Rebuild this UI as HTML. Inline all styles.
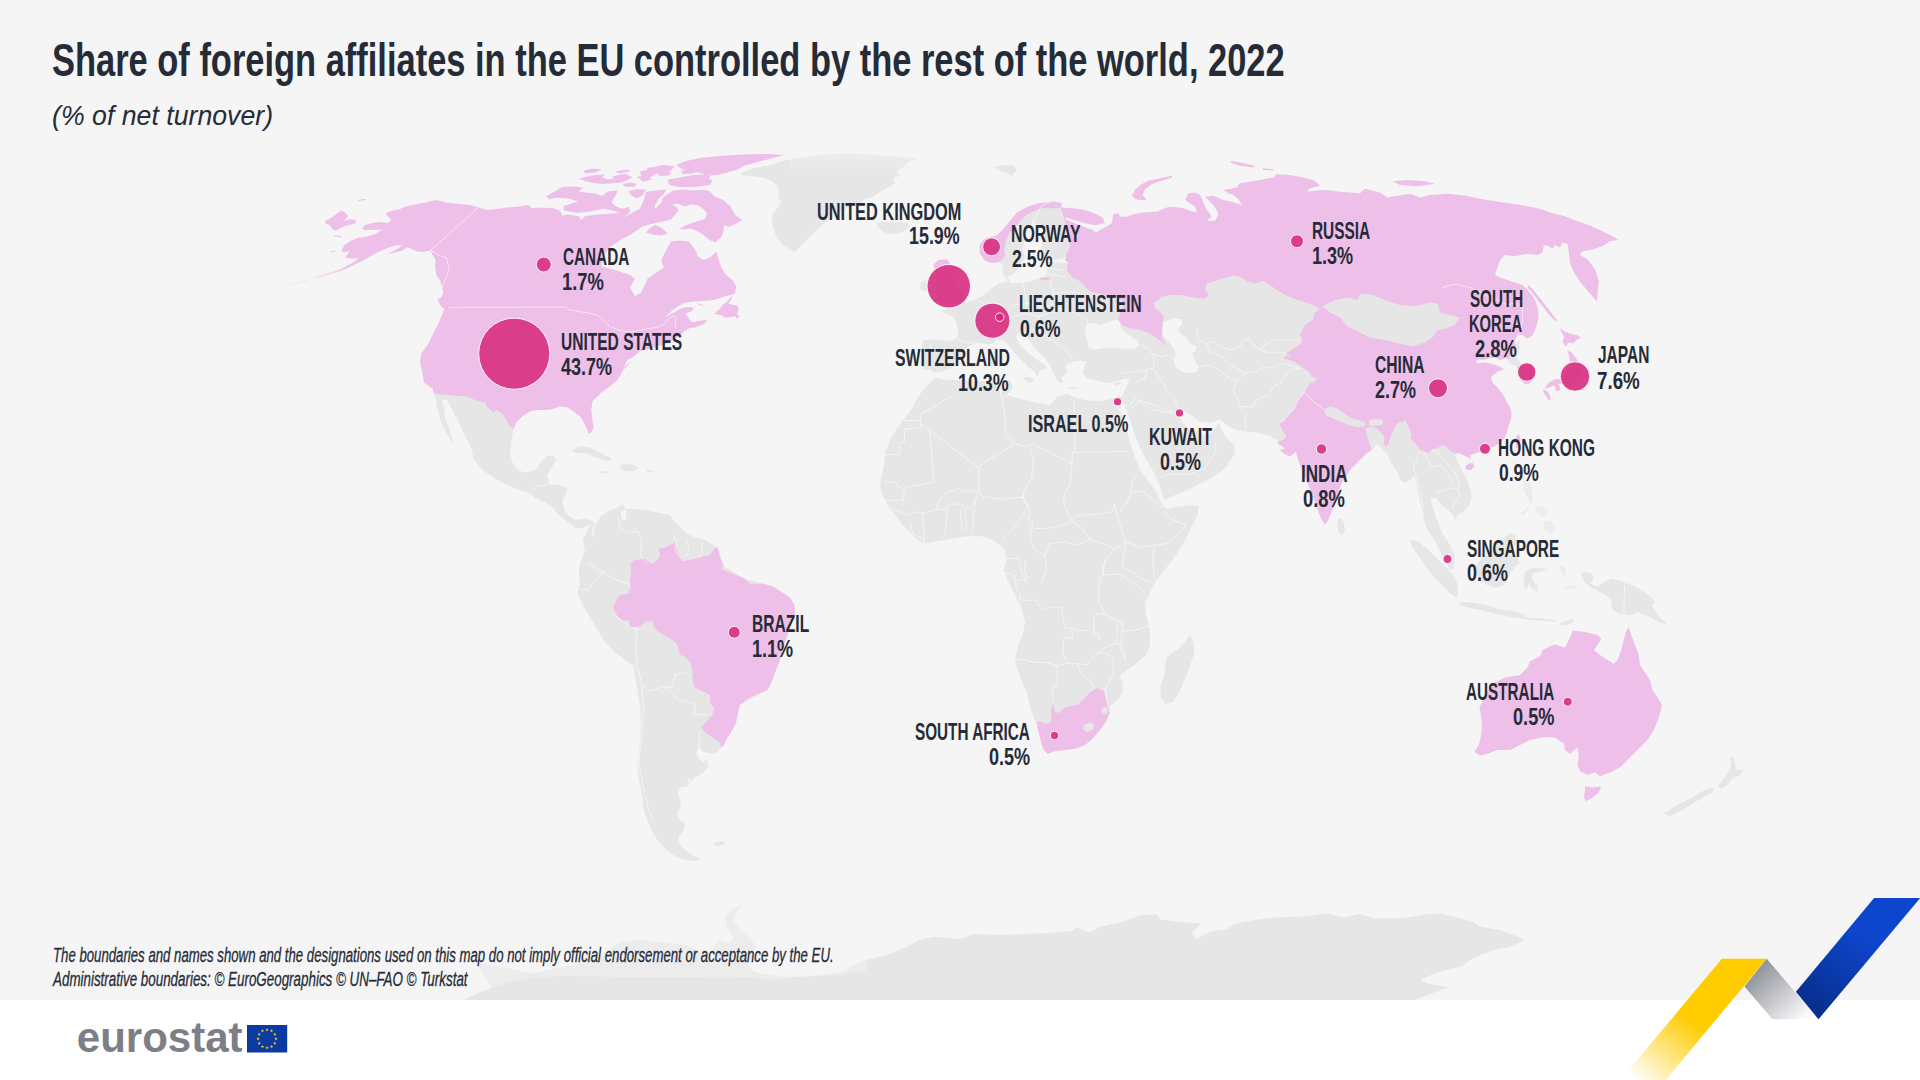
<!DOCTYPE html>
<html><head><meta charset="utf-8"><title>Share of foreign affiliates in the EU</title>
<style>
html,body{margin:0;padding:0}
body{width:1920px;height:1080px;position:relative;overflow:hidden;background:#f5f5f5;font-family:"Liberation Sans",sans-serif;color:#262b38}
#foot{position:absolute;left:0;top:1000px;width:1920px;height:80px;background:#fff}
svg{position:absolute;left:0;top:0}
.t{position:absolute;white-space:nowrap;transform-origin:0 0;color:#262b38}
#euro{position:absolute;left:76.8px;top:1017.4px;font:bold 42px "Liberation Sans",sans-serif;line-height:42px;color:#7d7f88;white-space:nowrap}
</style></head><body>
<svg id="map" width="1920" height="1000" viewBox="0 0 1920 1000">
<path fill="#e6e6e6" d="M1662.5,813.8L1675.0,806.2L1687.5,800.0L1697.5,793.8L1707.5,788.8L1715.0,787.5L1712.5,792.5L1702.5,797.5L1692.5,803.8L1680.0,811.2L1670.0,816.2ZM1717.5,786.2L1722.5,780.0L1727.5,773.8L1731.2,765.0L1730.0,757.5L1733.8,756.2L1735.0,763.8L1736.2,770.0L1743.8,770.0L1740.0,775.0L1732.5,778.8L1726.2,786.2L1721.2,788.8ZM741.7,172.5L753.3,168.3L770.0,165.0L786.7,160.0L806.7,156.7L826.7,154.2L846.7,153.3L870.0,154.2L895.0,156.7L920.0,158.3L908.3,161.7L903.3,166.7L896.7,171.7L900.0,175.8L893.3,178.3L895.0,183.3L886.7,188.3L880.0,191.7L875.0,195.8L870.0,197.5L865.0,199.2L860.0,202.5L850.0,206.7L840.0,211.7L833.3,216.7L826.7,221.7L820.0,226.7L813.3,233.3L806.7,240.0L800.0,246.7L795.0,251.7L791.7,250.8L785.0,246.7L778.3,240.0L775.0,233.3L773.3,226.7L771.7,220.0L773.3,213.3L778.3,206.7L781.7,201.7L778.3,196.7L779.2,190.0L776.7,185.0L770.0,180.0L761.7,177.5L750.0,175.8L741.7,175.0ZM876.7,223.3L883.3,221.7L891.7,222.5L900.0,221.7L908.3,223.3L910.0,226.7L905.0,230.8L896.7,233.3L888.3,234.2L881.7,230.8L878.3,226.7ZM993.3,166.7L1003.3,165.0L1013.3,165.8L1016.7,170.0L1011.7,175.8L1006.7,173.3L1000.0,170.8ZM920.8,281.7L926.7,279.2L930.8,282.5L930.0,288.3L925.0,291.7L920.0,289.2ZM1337.5,519.2L1340.8,518.3L1344.2,524.2L1345.0,530.0L1342.5,535.0L1339.2,533.3L1337.5,526.7ZM1520.0,338.3L1516.7,343.3L1513.3,345.0L1510.0,350.0L1507.5,355.0L1508.3,361.7L1511.7,365.0L1516.7,365.8L1520.0,363.3L1519.2,360.0L1516.7,358.3L1517.5,353.3L1520.0,348.3L1519.2,343.3ZM992.5,257.5L1000.0,247.5L1002.5,240.0L1007.5,232.5L1012.5,225.0L1017.5,217.5L1025.0,210.0L1035.0,205.0L1050.0,201.2L1061.2,202.5L1063.8,212.5L1066.2,222.5L1068.8,232.5L1071.2,242.5L1068.8,252.5L1063.8,258.0L1052.5,260.0L1042.5,258.8L1040.0,252.5L1042.5,242.5L1045.0,232.5L1040.0,225.0L1032.5,222.5L1027.5,230.0L1025.0,240.0L1022.5,250.0L1025.0,257.5L1020.0,265.0L1015.0,272.5L1010.0,276.2L1005.0,272.5L1002.5,265.0L997.5,261.2ZM1068.3,263.3L1056.7,262.5L1048.3,261.7L1046.7,268.3L1046.7,273.3L1044.2,277.5L1040.0,278.3L1030.0,281.7L1023.3,282.5L1013.3,283.3L1008.3,281.7L1003.3,275.0L1002.5,268.3L1005.8,265.0L1008.3,270.0L1007.5,276.7L1010.0,280.8L1000.0,283.3L995.0,285.8L990.0,290.0L983.3,295.0L978.3,298.3L973.3,300.0L966.7,302.5L960.0,303.3L955.0,305.8L950.0,305.3L946.7,308.3L941.7,310.8L946.7,314.2L953.3,316.7L956.7,323.3L958.3,331.7L956.7,338.3L950.0,340.8L940.0,340.0L930.0,339.2L923.3,340.8L921.7,346.7L922.5,355.0L920.8,363.3L923.3,369.2L930.0,370.0L935.0,372.5L941.7,371.7L948.3,369.2L955.0,365.0L960.0,358.3L963.3,353.3L966.7,348.3L971.7,345.0L976.7,342.5L981.7,343.3L988.3,344.2L993.3,343.3L996.7,340.8L1001.7,340.0L1006.7,343.3L1011.7,350.0L1018.3,356.7L1025.0,363.3L1030.0,368.3L1035.0,371.7L1036.7,376.7L1034.2,379.2L1038.3,375.0L1040.0,370.0L1045.0,369.2L1046.7,366.7L1040.0,361.7L1033.3,356.7L1026.7,351.7L1021.7,346.7L1018.3,341.7L1015.8,336.7L1018.3,333.3L1023.3,333.3L1026.7,336.7L1030.0,341.7L1035.0,348.3L1040.0,353.3L1045.0,358.3L1048.3,363.3L1051.7,368.3L1053.3,373.3L1056.7,380.0L1060.0,383.3L1063.3,381.7L1061.7,376.7L1065.0,375.0L1067.5,371.7L1065.0,366.7L1068.3,363.3L1073.3,361.7L1080.0,360.8L1086.7,361.7L1084.2,366.7L1082.5,373.3L1086.7,378.3L1093.3,380.0L1101.7,381.7L1110.0,383.3L1116.7,380.8L1123.3,379.2L1130.0,378.3L1128.3,383.3L1125.0,390.0L1121.7,396.7L1118.3,401.7L1118.8,393.8L1122.5,401.2L1127.5,412.5L1132.5,427.5L1137.5,442.5L1145.0,457.5L1152.5,470.0L1158.8,482.5L1162.5,495.0L1165.0,500.0L1175.0,495.0L1187.5,490.0L1200.0,483.8L1210.0,478.8L1220.0,472.5L1227.5,465.0L1235.0,452.5L1233.8,445.0L1227.5,438.8L1221.2,430.0L1218.8,423.0L1216.2,427.0L1211.2,432.5L1205.0,435.5L1197.5,432.5L1190.0,430.0L1183.8,423.8L1178.8,416.2L1180.0,410.0L1185.0,411.2L1192.5,416.2L1200.0,422.0L1210.0,423.0L1220.0,419.5L1225.0,423.8L1232.5,428.8L1242.5,431.2L1255.0,432.5L1267.5,435.0L1277.5,440.0L1282.5,445.0L1280.0,443.3L1371.7,450.0L1376.7,444.2L1381.7,448.3L1386.7,453.3L1390.0,460.0L1393.3,466.7L1398.3,473.3L1400.0,480.0L1405.0,483.3L1410.0,480.0L1414.2,475.8L1416.7,483.3L1418.3,493.3L1420.8,503.3L1423.3,513.3L1425.0,523.3L1426.7,533.3L1423.3,506.7L1424.2,513.3L1423.0,517.5L1427.0,528.7L1434.3,540.0L1440.0,551.0L1445.7,562.5L1451.0,570.0L1454.0,568.0L1455.0,555.0L1449.3,543.7L1441.8,532.5L1436.2,517.5L1432.5,506.7L1430.7,498.7L1431.7,497.5L1435.8,498.3L1440.0,503.3L1443.3,506.7L1448.3,510.0L1453.3,515.0L1455.0,520.0L1458.3,515.0L1463.3,511.7L1468.3,506.7L1471.7,498.3L1470.8,490.0L1466.7,480.0L1461.7,470.0L1457.5,461.7L1455.0,455.0L1458.3,451.7L1470.0,400.0L1480.0,330.0L1480.0,250.0L1100.0,240.0L1075.0,262.0ZM1113.3,383.3L1120.0,381.7L1121.7,383.3L1116.7,385.8ZM1068.3,386.7L1078.3,387.0L1079.2,388.7L1069.2,388.7ZM1023.3,376.7L1031.7,377.5L1035.0,380.0L1030.0,383.3L1025.0,380.8ZM990.8,356.7L995.0,355.8L995.8,365.0L991.7,366.7ZM993.3,347.5L995.8,346.7L996.7,354.2L994.2,354.7ZM935.0,377.5L947.5,380.0L965.0,380.5L985.0,381.2L1000.0,382.5L1010.0,380.0L1013.0,387.5L1007.5,395.0L1020.0,398.8L1035.0,402.5L1050.0,405.0L1057.5,396.2L1067.5,393.8L1075.0,397.5L1085.0,400.0L1100.0,401.2L1112.5,398.8L1118.8,396.2L1122.5,400.0L1120.0,410.0L1125.0,425.0L1130.0,442.5L1135.0,457.5L1140.0,470.0L1147.5,480.0L1155.0,490.0L1160.0,500.0L1162.5,506.2L1167.5,508.8L1180.0,506.2L1192.5,505.0L1198.8,506.2L1197.5,515.0L1190.0,530.0L1182.5,545.0L1172.5,560.0L1162.5,572.5L1155.0,582.5L1150.0,592.5L1145.0,602.5L1145.0,605.0L1146.2,615.0L1148.8,625.0L1150.0,635.0L1150.0,645.0L1146.2,655.0L1137.5,662.5L1127.5,670.0L1120.0,675.0L1122.5,682.5L1122.5,692.5L1117.5,700.0L1110.0,706.2L1110.0,712.5L1106.2,721.2L1100.0,730.0L1092.5,738.8L1085.0,745.0L1075.0,748.8L1065.0,750.0L1055.0,751.2L1047.5,753.8L1043.8,750.0L1041.2,742.5L1038.8,732.5L1036.2,722.5L1033.8,717.5L1030.0,707.5L1027.5,695.0L1022.5,682.5L1017.5,670.0L1015.0,660.0L1017.5,647.5L1022.5,635.0L1025.0,622.5L1022.5,610.0L1020.0,600.0L1023.8,620.0L1022.5,610.0L1017.5,600.0L1012.5,590.0L1007.5,580.0L1003.8,570.0L1006.2,560.0L1005.0,550.0L1000.0,545.0L992.5,540.0L982.5,536.2L967.5,536.2L952.5,538.8L937.5,541.2L925.0,543.8L917.5,540.0L910.0,532.5L902.5,525.0L895.0,515.0L887.5,505.0L882.5,495.0L880.0,487.5L881.2,477.5L883.8,465.0L885.0,452.5L890.0,440.0L897.5,427.5L905.0,417.5L912.5,407.5L917.5,397.5L925.0,387.5ZM1190.0,635.0L1193.8,642.5L1194.5,652.5L1191.2,662.5L1187.5,672.5L1182.5,685.0L1177.5,695.0L1172.5,702.5L1165.0,703.8L1161.2,697.5L1160.0,687.5L1163.8,677.5L1165.0,667.5L1166.2,657.5L1172.5,652.5L1180.0,647.5L1186.2,640.0ZM595.0,525.0L600.0,517.5L607.5,511.2L617.5,507.5L622.5,503.8L625.0,508.8L632.5,508.8L645.0,510.0L657.5,512.5L670.0,515.0L675.0,522.5L680.0,526.2L685.0,532.5L695.0,537.5L705.0,540.0L715.0,546.2L720.0,552.5L717.5,547.0L723.8,566.2L745.0,578.8L772.5,586.2L794.5,605.0L791.2,625.0L780.0,660.0L767.5,690.0L740.0,705.0L732.5,730.0L721.2,747.5L717.5,752.5L710.0,753.8L702.5,751.2L698.8,747.5L696.2,752.5L700.0,760.0L705.0,765.0L702.5,772.5L695.0,777.5L690.0,782.5L685.0,787.5L706.2,758.8L708.8,766.2L703.8,772.5L695.0,777.5L687.5,780.0L688.0,786.2L680.0,787.5L677.5,793.8L681.2,801.2L680.0,808.8L676.2,813.8L680.0,820.0L685.5,823.8L683.8,830.0L678.8,836.2L678.8,842.5L682.5,847.5L690.0,853.8L700.0,858.8L695.0,861.2L685.0,860.0L675.0,856.2L665.0,848.8L657.5,840.0L651.2,830.0L647.5,820.0L643.8,810.0L642.5,797.5L640.0,785.0L637.5,770.0L638.8,755.0L640.0,740.0L640.0,735.0L641.2,720.0L640.0,705.0L637.5,690.0L635.0,675.0L632.5,665.0L625.0,660.0L615.0,652.5L605.0,642.5L597.5,630.0L590.0,617.5L582.5,605.0L577.5,592.5L580.0,582.5L578.8,570.0L581.2,560.0L585.0,550.0L582.5,540.0L587.5,530.0L592.5,520.0L592.5,555.0L590.0,545.0L593.8,535.0ZM713.8,842.5L723.8,841.2L725.0,844.5L715.0,846.2ZM433.8,392.5L450.0,392.5L475.0,397.5L487.5,405.0L502.5,411.2L513.8,426.2L511.2,442.5L510.0,452.5L512.5,462.5L517.5,470.0L525.0,472.5L536.2,470.0L541.2,461.2L546.2,456.2L553.8,455.0L556.2,460.0L550.0,470.0L547.5,475.0L550.0,484.5L557.5,485.0L565.0,486.2L567.5,490.0L562.5,500.0L563.8,508.8L567.5,515.0L575.0,520.0L585.0,518.8L590.0,520.0L595.0,523.8L593.8,526.2L590.0,523.8L582.5,528.8L575.0,527.5L572.5,525.0L565.0,520.0L557.5,513.8L552.5,507.5L545.0,502.5L535.0,497.5L530.0,493.8L520.0,490.0L507.5,485.0L495.0,478.8L482.5,470.0L473.8,460.0L471.2,447.5L465.0,435.0L458.8,422.5L452.5,410.0L447.5,400.0L442.0,400.0L443.8,407.5L445.0,417.5L448.8,427.5L451.2,436.2L453.8,444.5L451.2,441.2L446.2,432.5L441.2,422.5L437.5,410.0L436.2,400.0ZM571.2,450.0L580.0,446.2L590.0,447.5L600.0,452.5L610.0,457.5L612.5,461.2L602.5,460.0L592.5,456.2L585.0,453.0L575.0,453.0ZM620.0,465.0L630.0,463.8L638.8,467.5L635.0,471.2L626.2,471.2L621.2,468.8ZM600.0,471.0L607.5,471.5L607.0,473.5L600.5,473.0ZM647.0,469.8L653.0,470.0L653.0,472.0L647.0,472.0ZM1410.0,540.0L1418.3,541.7L1426.7,548.3L1435.0,556.7L1443.3,565.0L1451.7,573.3L1456.7,581.7L1458.3,590.0L1457.5,597.5L1451.7,595.0L1445.0,588.3L1436.7,580.0L1428.3,570.0L1420.0,558.3L1413.3,548.3ZM1458.8,602.8L1470.0,601.9L1485.0,604.7L1500.0,609.4L1515.0,611.3L1524.4,615.0L1522.5,618.8L1511.3,616.9L1496.3,614.1L1481.3,610.3L1466.3,607.5L1459.7,605.3ZM1475.0,566.7L1480.0,560.0L1486.7,555.0L1493.3,546.7L1501.7,540.0L1510.0,533.3L1515.0,535.0L1516.7,541.7L1513.3,548.3L1516.7,556.7L1520.0,563.3L1515.0,566.7L1510.0,573.3L1506.7,581.7L1501.7,586.7L1493.3,587.5L1486.7,585.0L1480.0,580.0L1475.8,573.3ZM1525.0,571.7L1531.7,568.3L1540.0,567.5L1546.7,569.2L1541.7,571.7L1533.3,573.3L1531.7,578.3L1536.7,585.0L1538.3,591.7L1533.3,590.0L1528.3,583.3L1526.7,590.0L1523.3,585.0L1524.2,578.3ZM1580.6,573.8L1586.3,571.5L1591.9,573.8L1593.8,579.4L1590.0,583.1L1597.5,586.9L1605.0,581.3L1612.5,578.4L1621.9,581.3L1631.3,585.0L1642.5,590.6L1650.0,596.3L1655.6,601.9L1651.9,605.6L1655.6,611.3L1661.3,618.8L1666.9,624.4L1659.4,622.5L1651.9,617.8L1644.4,615.0L1636.9,611.3L1633.1,615.0L1623.8,615.0L1614.4,611.3L1610.6,605.6L1612.5,600.0L1605.0,594.4L1597.5,590.6L1590.0,586.9L1584.4,581.3ZM865.0,961.7L866.7,960.0L886.7,955.0L906.7,946.7L920.0,940.0L933.3,936.7L953.3,938.3L960.0,939.3L973.3,934.0L1000.0,935.0L1043.3,933.3L1073.3,930.7L1076.7,927.3L1090.0,932.7L1100.0,926.7L1123.3,921.7L1140.0,915.0L1156.7,914.3L1160.0,919.3L1176.7,921.7L1201.7,923.3L1191.7,933.3L1196.7,939.3L1210.0,931.7L1226.7,929.3L1236.7,923.3L1260.0,919.3L1280.0,917.3L1310.0,916.0L1326.7,913.3L1343.3,917.3L1360.0,914.0L1373.3,918.3L1403.3,918.3L1426.7,914.3L1440.0,913.3L1460.0,918.3L1473.3,921.7L1480.0,926.7L1500.0,930.0L1513.3,935.0L1525.0,940.0L1510.0,946.7L1493.3,950.0L1473.3,958.3L1460.0,966.7L1440.0,971.7L1426.7,976.7L1420.0,980.0L1426.7,983.3L1448.3,987.3L1410.0,1001.7L865.0,1001.7ZM1520.0,616.7L1526.7,617.0L1533.3,618.3L1540.0,618.0L1546.7,619.2L1555.0,620.0L1555.0,621.7L1543.3,620.8L1531.7,620.0L1520.8,618.7ZM1560.0,623.3L1566.7,620.8L1573.3,619.2L1575.0,620.8L1568.3,624.2L1561.7,625.8Z"/>
<path fill="#ececec" d="M476.7,963.3L496.7,966.0L533.3,973.3L546.7,970.0L573.3,965.0L600.0,956.7L620.0,941.7L640.0,940.0L666.7,943.3L686.7,945.0L700.0,951.7L710.0,961.7L716.7,958.3L713.3,946.7L720.0,940.0L730.0,943.3L733.3,936.7L726.7,926.7L725.0,916.7L733.3,908.3L743.3,903.3L736.7,911.7L733.3,920.0L740.0,930.0L750.0,938.3L756.7,946.7L753.3,955.0L746.7,963.3L753.3,971.7L766.7,975.0L793.3,976.7L820.0,975.0L843.3,971.7L853.3,965.0L866.7,960.0L866.7,1001.7L500.0,1001.7ZM1523.3,480.0L1528.3,481.7L1531.7,488.3L1533.3,496.7L1531.7,503.3L1528.3,500.0L1525.0,493.3L1523.3,486.7ZM1545.0,520.0L1551.7,521.7L1555.0,528.3L1551.7,533.3L1546.7,531.7L1543.3,526.7ZM1535.0,506.7L1541.7,505.8L1546.7,511.7L1545.0,518.3L1540.0,515.0L1535.8,511.7ZM1520.0,513.3L1525.0,510.0L1528.3,506.7L1527.5,510.8L1522.5,515.8ZM1560.0,566.7L1564.2,565.0L1565.8,571.7L1564.2,578.3L1561.7,573.3ZM1563.3,586.7L1573.3,585.8L1576.7,588.3L1566.7,589.2Z"/>
<path fill="#e6e6e6" d="M462.0,1001.0L480.0,992.0L500.0,985.0L525.0,979.0L560.0,976.0L620.0,977.0L695.0,977.0L720.0,978.0L750.0,977.0L770.0,980.0L800.0,977.0L840.0,975.0L868.0,970.0L868.0,1001.0Z"/>
<path fill="#f5f5f5" d="M1085.0,331.7L1085.8,325.0L1093.3,322.5L1100.0,325.8L1105.0,323.3L1113.3,320.0L1123.3,320.8L1120.0,325.8L1123.3,330.8L1130.0,335.8L1136.7,340.0L1139.7,345.0L1135.8,348.3L1125.0,348.7L1113.3,347.5L1103.3,348.3L1095.0,349.7L1088.3,348.3L1087.5,341.7ZM1166.7,320.8L1173.3,318.3L1181.7,319.2L1182.5,324.2L1178.3,328.3L1180.0,333.3L1186.7,338.3L1190.0,343.3L1196.7,346.7L1195.0,351.7L1191.7,353.3L1195.0,360.0L1198.3,366.7L1196.7,371.7L1190.0,373.3L1181.7,371.7L1175.8,366.7L1173.3,360.0L1175.8,353.3L1173.3,346.7L1166.7,340.0L1161.7,333.3L1159.2,327.5L1161.7,323.3ZM622.1,510.6L625.8,509.7L626.8,515.3L624.9,520.6L621.5,519.1L620.8,514.4Z"/>
<path fill="#eebfe9" d="M478.3,207.5L486.7,210.0L495.0,209.2L506.7,207.5L516.7,206.7L528.3,205.0L531.7,208.3L541.7,207.5L553.3,208.3L560.0,210.8L562.5,215.8L567.5,214.4L578.8,216.2L581.2,220.0L585.0,216.2L597.5,214.4L610.0,213.8L620.0,213.1L625.0,216.9L630.0,213.8L636.2,210.6L640.0,208.8L646.2,206.9L650.0,210.0L655.0,209.4L658.8,205.0L662.5,201.2L668.8,202.5L676.2,206.9L678.8,210.0L675.0,215.0L671.2,219.4L663.8,221.2L657.5,222.5L653.8,223.5L642.5,226.5L630.0,235.0L620.0,240.2L610.0,246.9L603.8,255.0L601.2,266.2L615.0,270.0L630.0,275.0L635.0,278.8L630.0,287.5L635.0,296.2L641.2,292.5L647.5,278.8L663.8,267.5L661.2,260.0L666.2,250.0L671.2,241.2L680.0,240.6L688.8,241.5L692.5,246.2L696.2,251.2L697.5,256.2L703.8,260.0L710.0,257.5L716.2,251.9L718.8,260.0L721.2,267.5L726.2,275.0L732.5,280.0L736.2,286.2L735.0,293.4L729.4,295.3L721.9,297.2L714.4,300.0L703.1,300.9L693.7,301.4L684.4,302.8L677.8,306.6L671.2,311.2L667.5,315.0L664.7,317.8L671.2,314.1L677.8,310.3L684.4,307.5L690.0,307.0L693.7,308.4L691.9,311.2L688.1,312.2L685.3,314.1L688.1,316.9L690.0,320.6L693.7,322.5L697.5,321.1L702.2,320.6L706.9,319.2L705.9,322.5L701.2,325.3L695.6,327.2L690.0,328.1L684.4,330.9L681.6,333.7L676.9,337.5L665.6,344.1L652.5,347.8L639.4,351.6L632.8,357.2L627.2,360.0L625.3,364.7L622.5,371.0L632.5,360.0L625.0,366.2L621.2,373.8L617.5,380.0L610.0,386.2L600.0,393.8L592.5,401.2L591.2,410.0L592.5,420.0L593.8,427.5L591.2,432.5L588.8,433.8L585.0,425.0L581.2,417.5L575.0,412.5L567.5,407.5L560.0,406.2L553.8,408.8L547.5,410.0L537.5,410.0L530.0,411.2L522.5,416.2L516.2,422.5L513.8,428.8L510.0,426.2L506.2,420.0L502.5,413.8L496.2,410.0L493.8,412.5L487.5,407.5L485.0,402.5L475.0,400.0L466.2,396.2L460.0,396.2L450.0,395.0L433.8,393.8L432.5,388.8L423.8,382.5L422.5,372.5L420.0,362.5L421.2,353.8L427.5,345.0L433.8,332.5L440.0,320.0L443.8,310.0L448.8,305.0L448.8,315.0L445.0,310.0L440.0,305.0L437.5,299.4L441.2,297.5L443.1,292.5L441.9,286.2L440.0,280.0L436.9,276.2L435.0,267.5L435.6,260.0L432.5,255.0L430.6,250.6L422.5,251.9L416.2,251.2L410.0,248.1L406.2,247.5L403.1,250.6L396.2,251.9L387.5,254.4L392.5,251.2L398.8,248.1L402.5,245.2L396.2,245.6L388.8,247.5L380.0,251.2L372.5,255.0L365.0,259.4L357.5,263.1L348.8,267.5L340.0,271.2L333.1,273.1L321.2,276.9L310.0,278.8L321.2,275.6L333.1,271.9L340.0,269.4L346.2,266.2L352.5,263.1L358.8,258.1L352.5,258.8L345.0,257.5L346.9,255.0L350.0,250.6L345.0,252.5L341.2,251.2L344.4,245.0L350.0,241.2L357.5,238.1L365.0,236.9L372.5,235.0L377.5,233.1L381.9,229.4L372.5,230.0L363.8,230.0L362.5,228.1L365.0,225.0L372.5,223.1L380.0,221.9L387.5,223.1L391.2,220.0L390.0,218.1L386.9,215.6L386.2,212.8L392.5,210.6L400.0,209.0L406.2,206.2L412.5,205.0L425.0,202.5L436.2,200.0L446.2,202.5L456.2,203.8L470.0,205.0L478.8,207.2ZM325.0,221.2L332.5,216.9L341.2,210.6L345.0,212.5L348.1,216.2L343.8,221.2L350.0,219.0L355.6,219.8L356.2,223.1L348.8,225.0L342.5,226.9L335.6,230.6L332.5,229.4L330.0,225.6L325.6,223.8ZM358.1,200.0L365.6,198.8L365.6,199.8L358.8,201.0ZM333.8,235.0L341.9,236.2L341.2,237.2L333.8,236.0ZM330.6,251.5L335.0,250.8L335.2,251.8L330.9,252.5ZM290.0,285.0L300.0,281.9L310.0,279.0L310.6,279.6L300.6,282.8L290.6,286.0ZM1628.8,627.5L1631.2,635.0L1635.0,645.0L1638.8,655.0L1640.0,665.0L1645.0,672.5L1650.0,680.0L1652.5,690.0L1657.5,697.5L1662.0,705.0L1658.8,717.5L1653.8,730.0L1647.5,740.0L1637.5,750.0L1627.5,760.0L1620.0,767.5L1610.0,772.5L1600.0,776.2L1595.0,772.5L1587.5,775.0L1580.0,771.2L1577.5,765.0L1578.8,755.0L1577.5,747.5L1570.0,753.8L1565.0,750.0L1563.8,743.8L1555.0,737.5L1545.0,737.0L1530.0,740.0L1520.0,745.0L1510.0,750.0L1497.5,750.0L1487.5,753.8L1480.0,755.5L1474.5,752.0L1478.8,745.0L1481.2,735.0L1482.0,725.0L1480.8,715.0L1479.5,707.5L1485.0,695.0L1492.5,683.8L1505.0,677.5L1520.0,675.0L1527.5,667.5L1530.0,661.2L1540.0,656.2L1542.5,650.0L1550.0,646.2L1555.0,644.5L1565.0,647.5L1570.0,637.5L1572.5,630.5L1580.0,631.2L1587.5,632.5L1597.5,635.0L1601.2,638.8L1597.5,645.0L1593.8,650.0L1600.0,655.0L1607.5,660.0L1613.8,663.8L1617.5,660.0L1621.2,650.0L1623.8,640.0L1626.2,631.2ZM1585.0,786.2L1592.5,787.5L1601.2,786.2L1598.8,792.5L1592.5,797.5L1586.2,801.2L1583.8,797.5L1585.0,791.2ZM675.0,542.5L677.5,552.5L682.5,561.2L690.0,560.0L700.0,557.5L710.0,555.0L715.0,547.5L717.5,547.0L720.0,557.5L723.8,566.2L721.2,568.8L732.5,573.8L745.0,578.8L750.0,583.8L762.5,583.8L772.5,586.2L782.5,592.5L790.0,597.5L794.5,605.0L795.0,615.0L791.2,625.0L786.2,637.5L780.0,660.0L775.0,672.5L772.5,680.0L767.5,690.0L755.0,695.0L747.5,698.8L740.0,705.0L737.5,715.0L736.2,722.5L732.5,730.0L727.5,737.5L723.8,745.0L721.2,747.5L720.0,742.5L712.5,737.5L705.0,732.5L701.2,727.5L707.5,720.0L712.5,715.0L713.8,707.5L710.0,702.5L710.0,695.0L702.5,691.2L695.0,687.5L692.5,680.0L692.5,670.0L690.0,662.5L685.0,656.2L680.0,655.0L677.5,645.0L672.5,640.0L660.0,632.5L653.8,627.5L652.5,621.2L646.2,621.2L640.0,626.2L630.0,627.5L628.8,620.0L622.5,621.2L617.5,616.2L613.0,607.5L616.2,600.0L620.0,595.0L628.8,593.8L630.0,582.5L631.2,570.0L630.0,563.8L635.0,560.0L645.0,558.8L651.2,563.8L657.5,560.0L660.0,555.0L658.8,548.8L665.0,547.5L670.0,545.0ZM546.3,196.3L555.1,191.2L562.4,186.8L574.1,186.5L582.9,187.5L578.5,191.5L587.3,192.7L596.1,193.4L601.9,195.9L607.8,191.5L618.0,190.5L615.1,196.3L611.4,202.2L615.8,206.6L622.4,208.8L629.0,207.0L630.0,211.7L625.3,216.4L615.1,210.9L603.4,208.8L590.2,211.4L577.1,213.1L563.9,210.5L563.2,206.1L578.5,201.4L568.3,198.5L556.6,197.8L549.3,199.2ZM628.3,191.2L637.0,189.0L645.8,189.7L642.9,194.9L637.0,198.5L631.2,195.6ZM645.8,191.9L656.0,190.5L666.3,189.4L664.1,194.1L659.0,198.5L654.6,205.8L656.0,213.1L651.7,219.0L645.8,222.7L640.0,219.0L637.0,213.1L641.4,205.8L644.3,198.5ZM702.9,158.3L713.1,157.3L724.8,155.8L748.2,154.2L768.7,153.9L783.3,155.1L771.6,157.8L754.1,160.5L739.4,163.4L730.6,165.6L721.9,167.8L710.2,169.3L702.9,171.5L692.6,172.9L699.9,169.3L708.7,166.3L705.8,163.4L711.6,160.5ZM678.7,163.4L692.6,160.5L699.9,161.9L695.5,165.6L686.8,168.5L680.9,167.1ZM667.7,179.5L680.9,177.3L692.6,175.1L708.7,174.4L710.2,176.6L707.2,181.7L695.5,183.2L680.9,182.4L669.2,183.9ZM578.5,178.8L587.3,176.6L596.1,175.1L604.8,174.4L602.7,177.7L607.8,179.2L619.5,177.3L625.3,179.5L622.4,182.4L613.6,183.2L601.9,183.9L590.2,182.4ZM645.8,167.8L654.6,167.1L659.0,170.7L650.2,171.5ZM637.0,176.6L648.7,175.8L651.7,179.5L642.9,181.7ZM615.1,171.5L628.3,169.3L629.7,171.5L619.5,173.6ZM661.9,198.5L667.7,194.1L673.6,190.5L682.4,189.4L692.6,190.5L701.4,189.7L708.7,190.5L714.6,196.3L723.3,200.0L730.6,206.6L735.0,214.6L742.4,220.2L735.0,224.1L729.2,227.0L724.1,225.6L723.3,232.2L721.1,237.3L715.3,242.4L708.7,239.5L702.9,234.4L697.7,231.4L691.2,228.5L683.8,229.5L679.4,228.9L685.3,225.6L697.0,221.2L705.0,219.0L707.2,213.1L702.9,208.8L697.7,205.1L691.2,204.4L685.3,206.6L677.3,203.6L669.2,205.1L662.6,202.9ZM646.2,232.5L650.0,228.1L655.0,225.0L660.0,226.9L665.0,230.6L667.5,233.8L661.2,235.6L653.8,235.0ZM714.4,313.6L719.1,309.4L722.8,304.7L726.6,301.9L731.2,296.7L733.1,295.8L730.3,300.9L728.4,303.7L733.1,304.7L737.8,305.6L738.7,309.4L736.9,314.1L739.7,315.9L736.9,318.7L735.0,315.9L731.2,316.9L725.6,317.8L720.9,315.0L717.2,314.5ZM696.6,303.3L702.2,304.7L704.1,306.1L699.4,305.2ZM985.3,260.8L979.6,253.3L979.6,244.8L985.3,238.3L996.5,235.5L1003.1,229.2L1010.6,219.8L1017.2,212.3L1027.6,206.7L1039.8,202.9L1054.8,201.6L1062.3,203.5L1059.5,208.2L1049.2,208.2L1041.7,208.2L1034.1,211.0L1026.6,214.8L1021.0,220.4L1014.4,227.0L1008.8,234.5L1005.6,242.0L1004.4,249.5L1005.0,255.2L1002.2,259.9L996.5,262.7L990.9,262.7ZM1040.0,277.5L1049.2,277.2L1049.2,279.7L1040.3,280.0ZM938.3,260.0L946.7,259.2L950.0,263.3L945.0,266.7L948.3,273.3L955.0,280.0L958.3,288.3L963.3,295.0L966.7,300.0L960.0,303.3L950.0,304.2L940.0,303.3L933.3,301.7L938.3,296.7L935.0,291.7L940.0,286.7L936.7,281.7L938.3,275.0L935.0,270.0L933.3,265.0ZM1059.2,207.5L1061.7,207.5L1073.3,208.3L1085.0,210.0L1096.7,214.2L1103.3,218.3L1104.2,223.3L1105.8,227.0L1111.7,223.3L1113.3,214.2L1118.3,213.3L1120.0,216.7L1126.7,216.7L1133.3,214.2L1143.3,212.5L1156.7,211.7L1166.7,207.5L1173.3,206.7L1183.3,208.3L1190.0,210.8L1196.7,212.5L1195.0,206.7L1190.0,203.3L1185.0,200.0L1188.3,193.3L1195.0,192.5L1200.0,195.0L1202.5,200.0L1205.0,206.7L1208.3,211.7L1211.7,216.7L1206.7,220.8L1215.0,220.8L1218.3,215.0L1216.7,210.0L1213.3,205.0L1208.3,200.0L1205.0,196.7L1213.3,195.8L1223.3,200.0L1231.7,201.7L1240.0,204.2L1242.5,205.0L1238.3,199.2L1233.3,195.0L1228.3,193.3L1223.3,190.0L1236.7,187.5L1240.0,183.3L1255.0,180.8L1273.3,177.5L1276.7,174.2L1290.0,175.0L1303.3,177.5L1315.0,180.8L1320.0,185.8L1310.0,188.3L1306.7,191.7L1315.0,190.8L1326.7,190.0L1340.0,191.7L1360.0,193.3L1365.0,188.8L1380.0,192.5L1387.5,197.5L1395.0,196.2L1410.0,193.8L1420.0,197.5L1430.0,195.0L1447.5,193.8L1465.0,195.5L1480.0,198.8L1495.0,201.2L1512.5,203.8L1527.5,206.2L1540.0,208.8L1550.0,212.5L1565.0,216.2L1577.5,221.2L1590.0,225.5L1602.5,231.2L1612.5,236.2L1618.8,240.0L1610.0,241.2L1604.8,245.0L1592.5,249.8L1583.0,251.0L1579.5,254.5L1587.8,259.5L1595.0,269.0L1598.8,281.0L1597.5,295.5L1597.0,301.5L1593.8,298.0L1586.5,289.5L1579.5,281.0L1573.5,271.5L1569.8,262.0L1568.5,249.8L1567.5,243.8L1562.5,242.5L1560.0,247.5L1555.0,245.0L1552.5,248.8L1548.8,246.2L1543.8,245.0L1542.5,252.5L1537.5,255.0L1527.5,253.8L1515.0,256.2L1505.0,255.0L1500.0,260.0L1497.5,267.5L1495.0,275.0L1500.0,277.5L1507.5,280.0L1515.0,282.5L1522.5,285.0L1530.0,292.5L1535.0,300.0L1537.5,307.5L1538.8,315.0L1537.5,322.5L1535.0,330.0L1532.5,335.0L1527.5,338.8L1522.5,335.0L1490.0,332.5L1440.0,320.0L1380.0,310.0L1340.0,310.0L1321.7,307.5L1318.3,308.3L1313.3,305.0L1303.3,301.7L1293.3,298.3L1285.0,295.0L1276.7,290.0L1270.0,285.0L1263.3,280.8L1256.7,283.3L1248.3,281.7L1240.0,276.7L1233.3,275.8L1223.3,278.3L1213.3,281.7L1206.7,283.3L1205.0,290.0L1208.3,293.3L1206.7,298.3L1200.0,298.3L1190.0,296.7L1180.0,295.0L1170.0,295.0L1161.7,296.7L1158.3,300.0L1153.3,303.3L1155.0,308.3L1160.0,311.7L1163.3,316.7L1161.7,336.7L1166.7,346.7L1163.3,343.3L1156.7,338.3L1150.0,333.3L1140.0,330.0L1130.0,328.3L1121.7,325.0L1118.3,320.0L1120.0,313.3L1123.3,306.7L1121.7,300.0L1115.0,295.8L1105.0,295.0L1096.7,293.3L1091.7,291.7L1086.7,288.3L1081.7,283.3L1078.3,280.0L1073.3,278.3L1068.3,273.3L1066.7,266.7L1068.3,263.3L1065.0,260.0L1066.7,253.3L1070.0,246.7L1068.3,238.3L1066.7,230.0L1065.0,221.7L1062.5,213.3L1060.0,206.7ZM1131.7,195.8L1135.0,190.0L1140.0,185.0L1148.3,180.8L1160.0,178.3L1171.7,175.8L1172.5,177.5L1161.7,180.8L1151.7,184.2L1145.0,189.2L1142.5,195.0L1146.7,200.0L1141.7,200.0L1135.8,199.2ZM1230.0,160.8L1240.0,162.5L1255.0,165.8L1253.3,167.5L1240.0,165.8L1231.7,163.3ZM1262.5,168.3L1273.3,169.2L1275.0,170.3L1263.3,170.0ZM1392.5,181.2L1407.5,180.0L1425.0,181.2L1435.0,183.8L1417.5,186.2L1400.0,185.0ZM1528.3,285.0L1533.3,290.0L1540.0,298.3L1546.7,306.7L1551.7,313.3L1556.7,320.0L1555.8,321.7L1550.0,315.8L1544.2,308.3L1538.3,300.8L1532.5,293.3L1527.5,287.5ZM1322.5,306.2L1440.0,300.0L1442.5,287.5L1455.0,284.2L1470.0,287.5L1485.0,295.0L1497.5,300.0L1507.5,305.0L1515.0,302.5L1522.5,307.5L1522.5,320.0L1520.0,332.5L1515.0,340.0L1516.2,346.2L1508.3,360.0L1506.7,358.3L1500.0,360.0L1495.0,357.5L1490.0,358.3L1483.3,360.0L1478.3,359.2L1475.8,361.7L1478.3,363.3L1485.0,362.5L1493.3,364.2L1500.0,366.7L1504.2,369.2L1498.3,371.3L1493.3,375.0L1490.8,378.3L1493.3,383.3L1498.3,388.3L1503.3,395.0L1506.7,401.7L1510.0,406.7L1511.7,413.3L1510.8,420.0L1508.3,426.7L1506.7,433.3L1503.3,440.0L1500.0,443.3L1493.3,446.7L1485.0,450.0L1476.7,453.0L1470.0,455.3L1470.8,460.0L1468.3,457.5L1463.3,455.3L1458.3,453.0L1455.0,453.3L1450.0,450.8L1446.7,446.7L1443.3,445.0L1436.7,448.3L1431.7,449.2L1428.3,453.3L1423.3,450.8L1420.0,450.0L1416.7,445.0L1413.3,441.7L1410.0,438.3L1411.7,435.0L1410.0,430.0L1406.7,423.3L1404.2,419.2L1400.0,415.0L1395.0,413.3L1388.3,416.7L1382.5,420.0L1375.0,419.2L1369.2,420.3L1365.0,422.0L1356.7,420.0L1350.0,417.5L1343.3,413.3L1336.7,408.3L1330.0,406.7L1324.2,410.0L1320.0,406.7L1313.3,401.7L1308.3,395.8L1304.2,393.3L1306.7,388.3L1310.0,383.3L1315.0,381.7L1316.7,378.3L1311.7,376.7L1310.0,373.3L1306.7,370.0L1301.7,366.7L1296.7,363.3L1290.0,360.0L1283.8,358.8L1287.5,352.5L1295.0,347.5L1302.5,342.5L1300.0,335.0L1305.0,325.0L1312.5,320.0L1315.0,312.5ZM1465.0,466.7L1469.2,463.3L1473.3,463.3L1474.2,466.7L1470.8,470.0L1466.7,470.0ZM1304.2,393.3L1308.3,395.8L1313.3,401.7L1320.0,406.7L1324.2,410.0L1325.8,415.0L1331.7,418.0L1340.0,421.3L1348.3,424.7L1356.7,427.0L1365.0,426.3L1366.7,435.0L1369.2,442.5L1371.7,450.0L1366.7,453.3L1361.7,458.3L1356.7,463.3L1351.7,468.3L1346.7,475.0L1341.7,483.3L1338.3,491.7L1335.0,501.7L1332.5,510.0L1328.3,520.0L1325.0,525.0L1320.8,518.3L1316.7,506.7L1313.3,496.7L1309.2,486.7L1305.0,476.7L1300.8,466.7L1297.5,458.3L1295.8,451.7L1290.0,456.7L1283.3,453.3L1280.0,450.0L1285.0,448.3L1280.0,445.0L1276.7,442.5L1283.3,440.0L1286.7,436.7L1283.3,431.7L1280.8,426.7L1279.2,423.3L1284.2,420.0L1288.3,415.0L1293.3,410.0L1295.8,405.0L1298.3,400.0L1301.7,395.8ZM1365.0,422.0L1369.2,419.7L1369.2,425.8L1375.0,425.7L1382.5,424.7L1382.5,420.0L1388.3,416.7L1395.0,413.3L1400.0,415.0L1404.2,419.2L1402.5,422.5L1398.3,422.0L1395.8,425.8L1392.5,431.7L1390.0,438.3L1388.3,443.3L1386.3,447.5L1383.7,443.3L1384.7,438.3L1382.5,434.2L1378.3,429.2L1371.7,426.7L1365.0,428.3L1365.0,426.3ZM1516.7,366.7L1521.7,363.3L1530.0,366.7L1535.0,373.3L1533.3,380.0L1528.3,384.2L1523.3,383.3L1519.2,378.3L1517.5,371.7ZM1560.0,328.3L1565.0,331.7L1571.7,334.2L1576.7,335.0L1580.8,337.5L1576.7,340.0L1573.3,343.3L1568.3,342.5L1565.8,346.7L1562.5,341.7L1564.2,336.7L1561.7,332.5ZM1567.5,350.8L1571.7,352.5L1575.0,356.7L1578.3,361.7L1580.8,366.7L1581.7,375.0L1578.3,381.7L1571.7,385.0L1565.0,384.2L1560.0,383.3L1558.3,384.2L1560.8,388.3L1556.7,389.2L1553.3,385.3L1549.2,387.5L1545.0,388.7L1546.7,385.0L1550.0,381.7L1555.0,379.2L1560.0,379.2L1565.0,376.7L1568.3,370.0L1570.0,363.3L1569.2,356.7ZM1543.3,389.2L1547.5,391.7L1550.0,395.8L1550.8,400.8L1548.3,400.0L1545.8,395.8L1543.3,392.5ZM1555.0,388.7L1560.0,388.0L1560.3,390.3L1555.8,391.0ZM1036.2,722.5L1038.8,732.5L1041.2,742.5L1043.8,750.0L1047.5,753.8L1055.0,751.2L1065.0,750.0L1075.0,748.8L1085.0,745.0L1092.5,738.8L1100.0,730.0L1106.2,721.2L1109.5,713.8L1107.5,707.5L1106.2,700.0L1103.8,691.2L1097.5,688.0L1090.0,692.5L1083.8,698.8L1077.5,705.0L1070.0,706.2L1065.0,707.5L1060.0,712.5L1055.0,712.5L1052.5,702.5L1051.2,710.0L1051.2,722.5L1045.0,723.8L1040.0,721.2ZM1516.0,437.0L1519.0,434.0L1520.5,440.0L1519.0,447.0L1516.5,449.0L1515.5,443.0ZM714.6,170.0L724.8,167.8L736.5,165.6L745.3,164.1L742.4,167.1L730.6,170.0L721.9,172.2L714.6,172.9ZM657.5,172.9L666.3,171.5L672.1,172.9L667.7,175.8L659.0,175.8ZM622.4,183.9L631.2,182.4L637.0,183.9L634.1,186.8L625.3,186.8ZM680.9,170.7L689.7,169.3L695.5,170.7L692.6,173.6L682.4,173.9ZM582.9,170.7L593.1,168.5L601.9,169.3L596.1,172.2L585.8,173.4ZM676.2,165.0L685.0,161.2L700.0,158.0L720.0,156.0L745.0,154.5L770.0,154.2L783.8,155.0L770.0,158.8L757.5,162.0L745.0,165.5L737.5,169.5L727.5,172.5L717.5,175.0L707.5,175.8L700.0,173.0L692.5,170.0L682.5,169.5ZM650.0,168.0L662.5,165.0L675.0,166.2L670.0,171.2L660.0,173.8L651.2,172.5ZM667.5,181.2L682.5,178.8L700.0,177.5L712.5,180.0L710.0,185.0L695.0,187.0L680.0,187.0L670.0,185.5ZM640.0,171.2L650.0,169.5L656.2,173.8L650.0,177.5L641.2,176.2ZM612.5,176.2L625.0,173.8L632.5,177.5L625.0,181.2L615.0,181.2ZM582.5,178.0L595.0,176.2L603.8,178.8L595.0,182.0L583.8,181.2Z"/>
<path fill="#f5f5f5" d="M1104.2,223.3L1095.0,225.3L1085.0,223.3L1073.3,220.0L1066.7,217.5L1065.0,219.2L1073.3,222.5L1083.3,226.7L1093.3,230.0L1095.8,232.5L1100.0,230.0L1105.8,227.0Z"/>
<path fill="#e6e6e6" d="M1322.5,306.2L1335.0,300.0L1347.5,297.5L1357.5,300.0L1360.0,293.8L1372.5,295.0L1385.0,300.0L1400.0,305.0L1415.0,306.2L1430.0,302.5L1437.5,303.8L1440.0,312.5L1450.0,315.0L1460.0,317.5L1455.0,325.0L1445.0,328.8L1437.5,330.0L1432.5,337.5L1425.0,342.5L1412.5,346.2L1400.0,343.8L1385.0,340.0L1370.0,337.5L1360.0,332.5L1347.5,326.2L1340.0,317.5L1330.0,312.5ZM1324.2,410.0L1330.0,406.7L1336.7,408.3L1343.3,413.3L1350.0,417.5L1356.7,420.0L1363.3,421.7L1365.0,425.8L1356.7,426.7L1348.3,424.2L1340.0,420.8L1331.7,417.5L1325.8,415.0ZM1369.2,420.8L1375.0,419.2L1381.7,420.0L1382.5,424.2L1375.0,425.3L1370.0,425.0ZM1083.8,725.0L1090.0,722.0L1094.5,725.0L1092.5,730.0L1086.2,732.5L1083.0,728.8ZM1102.5,707.5L1107.0,707.0L1108.0,712.5L1103.8,715.0L1101.2,711.2Z"/>
<path fill="none" stroke="#fff" stroke-opacity="0.62" stroke-width="0.9" stroke-linejoin="round" d="M953.6,393.2L950.8,396.9L943.3,400.7L935.8,406.3L926.4,411.0L920.8,413.8L920.8,420.4L903.5,420.4M920.8,420.4L920.4,427.9L904.8,428.9L904.4,442.0L899.7,443.0L899.7,454.2L883.2,455.2M920.8,424.2L930.2,430.8L930.2,435.5L933.9,482.4L906.7,487.1L903.8,491.8M930.2,430.8L975.3,465.5L979.0,467.4L979.0,490.9L960.2,490.9L959.3,488.1L945.2,493.7L939.5,500.3L935.8,509.7M979.0,466.8L990.3,458.9L1014.7,443.9L1005.3,432.6L1004.4,408.2L1001.6,398.8L1005.3,396.0L1010.0,393.2M1001.6,398.8L999.7,387.5M1014.7,443.9L1026.0,446.7L1032.6,443.9L1072.1,463.6L1072.1,452.4L1074.9,452.4M1073.9,400.7L1074.9,452.4L1129.4,451.4M1029.8,446.7L1033.5,460.8L1031.7,477.7L1024.1,490.9L1023.2,497.5M1072.1,463.6L1070.2,485.3L1064.5,492.8L1063.6,504.1L1069.2,515.3L1072.1,521.9M1072.1,521.9L1076.8,515.3L1095.6,514.4L1112.5,511.6L1114.4,505.0L1116.2,511.6L1120.0,524.7L1125.6,541.7M1136.9,475.9L1132.2,481.5L1131.3,492.8L1125.6,504.1L1120.0,511.6M1132.2,492.8L1142.6,490.9L1153.8,500.3L1162.3,507.8M1163.2,511.6L1170.8,519.1L1185.8,524.7L1178.3,534.1L1167.0,543.5L1155.7,545.4L1140.7,547.3L1125.6,541.7M1155.7,545.4L1152.9,552.9L1153.8,575.5L1157.6,583.0M1072.1,521.9L1082.4,528.5L1089.9,539.8L1103.1,543.5L1114.4,549.2L1125.6,541.7M1072.1,521.9L1058.0,526.6L1044.8,528.5L1035.4,528.5L1029.8,536.0L1033.5,549.2L1044.8,555.8M1044.8,555.8L1050.5,543.5L1065.5,541.7L1076.8,545.4L1089.9,539.8M1023.2,497.5L1027.9,507.8L1020.4,519.1L1012.9,528.5L1005.3,536.0L1001.6,541.7M1023.2,497.5L1029.8,509.7L1027.9,519.1L1033.5,522.9L1029.8,536.0M979.0,490.9L982.8,496.5L1001.6,499.4L1016.6,497.5L1023.2,497.5M975.3,500.3L973.4,515.3L972.4,530.4M935.8,509.7L945.2,509.7L948.9,504.1L960.2,504.1L969.6,509.7L975.3,500.3L979.0,490.9M947.1,509.7L945.2,536.0M960.2,509.7L962.1,532.3M964.9,509.7L966.8,530.4M922.6,513.5L924.5,543.5M935.8,509.7L922.6,513.5L915.1,511.6L907.6,515.3L900.1,511.6L890.7,507.8M909.5,522.9L913.2,534.1L924.5,539.8M884.1,481.5L894.4,482.4L903.8,490.9L903.8,500.3L890.7,500.3L884.1,500.3M1005.3,558.6L1018.5,558.6L1020.4,568.0L1026.0,583.0M1044.8,555.8L1046.7,568.0L1042.0,583.0M1114.4,549.2L1105.0,560.5L1101.2,583.0M1125.6,541.7L1123.8,552.9L1121.9,566.1L1142.6,579.2L1152.0,583.0M1159.5,477.7L1170.8,474.0L1189.5,474.0L1204.6,468.3L1215.9,451.4L1215.9,442.0M1131.3,408.2L1140.7,400.7L1152.0,404.4L1172.6,412.0M1115.3,400.7L1120.0,412.0M1019.9,600.2L1036.7,600.2L1042.3,610.5L1051.7,606.8L1061.9,607.7L1062.9,618.0L1064.8,627.3L1072.2,628.3L1072.2,637.6L1063.8,638.6L1062.9,655.4L1068.5,662.9M1015.2,660.1L1023.6,659.1L1031.1,661.9L1047.9,662.9L1057.3,665.7L1068.5,662.9L1076.9,663.8M1057.3,665.7L1057.3,685.3L1052.6,687.2L1052.6,703.1M1076.9,663.8L1081.6,674.1L1089.1,679.7L1094.7,688.1M1076.9,663.8L1087.2,664.8L1094.7,655.4L1101.2,651.7L1113.4,657.3L1113.4,674.1L1105.0,688.1L1106.8,702.2M1072.2,628.3L1079.7,631.1L1087.2,630.1L1094.7,634.8L1099.4,639.5L1099.4,634.8L1093.7,632.0L1093.7,616.1L1099.4,613.3L1105.0,614.2L1117.1,620.8L1121.8,621.7M1117.1,620.8L1117.1,634.8L1114.3,643.2L1101.2,649.8M1121.8,621.7L1122.7,631.1L1120.9,640.4L1124.6,651.7L1125.5,659.1L1121.8,653.5L1119.9,644.2L1115.3,643.2M1122.7,631.1L1135.8,630.1L1149.9,625.5M1104.0,575.0L1119.9,574.0L1137.7,586.2L1145.2,594.6M1099.4,576.8L1098.4,589.9L1099.4,602.1L1105.0,614.2M1003.0,572.2L1014.2,575.0L1016.1,588.1L1019.9,593.7L1019.9,600.2M1016.1,580.6L1027.3,578.7L1024.5,571.2L1025.5,560.0M1104.0,575.0L1102.2,567.5L1105.9,560.0M618.3,516.2L619.8,527.2L627.7,532.0L638.7,532.0L641.9,543.0L640.3,555.6L646.6,563.5M671.8,533.5L676.5,541.4L675.0,550.9L681.3,558.7M686.0,538.3L689.1,547.7L686.0,557.2M701.7,541.4L701.7,554.0L698.6,557.2M588.3,563.5L600.9,571.3L612.0,577.6L623.0,582.4L629.3,583.9L630.9,590.2M580.5,588.7L588.3,590.2L594.6,580.8L604.1,571.3M615.1,615.4L629.3,626.5L637.2,629.6L635.6,650.1L637.2,662.7L634.0,669.0M637.2,665.8L641.9,684.7L649.8,691.0L663.9,686.3L671.8,687.9L675.0,675.3L686.0,672.1L692.3,678.4M663.9,686.3L679.7,700.5L695.4,703.6L693.9,714.6L708.0,714.6M641.9,684.7L643.5,706.8L641.9,732.0L638.7,763.5L643.5,788.7L648.2,807.6L652.9,820.2M700.2,730.4L698.6,747.7L701.7,754.0M1120.8,373.3L1133.3,371.7L1146.7,370.0L1153.3,368.3L1154.2,358.3L1151.7,353.3L1150.0,350.0L1141.7,345.0M1135.0,383.3L1145.0,378.3L1146.7,370.0M1153.3,368.3L1158.3,376.7L1163.3,383.3L1166.7,391.7L1175.0,400.0L1178.3,408.3M1121.7,406.7L1130.0,405.0L1135.0,398.3L1153.3,410.0L1173.3,413.3M1196.7,368.3L1205.0,365.0L1213.3,366.7L1223.3,373.3L1231.7,380.0L1236.7,380.0L1233.3,390.0L1236.7,398.3L1240.0,406.7L1246.7,413.3L1245.0,421.7L1246.7,426.7L1243.3,431.7M1240.0,406.7L1253.3,406.7L1256.7,400.0L1268.3,395.0L1273.3,386.7L1280.0,383.3L1285.0,376.7L1290.0,370.0L1300.0,368.3M1236.7,380.0L1245.0,373.3L1256.7,371.7L1263.3,366.7L1273.3,368.3L1280.0,363.3L1290.0,365.0L1300.0,368.3M1196.7,328.3L1198.3,340.0L1206.7,343.3L1213.3,341.7L1220.0,346.7L1230.0,350.0L1240.0,346.7L1243.3,340.0L1248.3,338.3L1255.0,346.7L1260.0,350.0L1265.0,345.0L1273.3,340.0L1285.0,340.0L1296.7,340.0L1301.7,338.3M1206.7,343.3L1210.0,351.7L1221.7,356.7L1230.0,365.0L1236.7,368.3L1245.0,373.3M1260.0,350.0L1270.0,353.3L1280.0,351.7L1290.0,356.7M1151.7,353.3L1160.0,356.7L1170.0,355.0L1175.0,361.7M1420.0,450.8L1416.7,460.0L1413.3,468.3L1416.7,476.7L1419.2,486.7L1421.7,498.3L1423.3,506.7M1423.3,451.7L1428.3,460.0L1431.7,466.7L1440.0,465.0L1448.3,473.3L1453.3,483.3M1431.7,450.0L1440.0,455.0L1446.7,463.3L1455.0,473.3L1460.0,483.3L1458.3,488.3M1436.7,493.3L1443.3,490.0L1453.3,488.3L1458.3,488.3L1460.0,496.7L1455.0,501.7L1451.7,508.3M930.0,343.3L931.7,353.3L929.2,363.3L930.0,369.2M957.5,339.2L966.7,342.5L976.7,343.0M978.3,299.2L985.0,305.0L993.3,308.3L996.7,316.7L995.0,323.3L1000.0,328.3L996.7,335.0L996.7,340.8M1023.3,283.3L1025.0,293.3L1026.7,303.3M1013.3,305.0L1026.7,303.3L1025.0,313.3L1013.3,316.7L1003.3,320.0L1000.0,328.3M1050.0,280.8L1053.3,293.3L1051.7,305.0L1063.3,310.0L1076.7,313.3L1086.7,320.0L1090.0,328.3M1040.0,328.3L1046.7,336.7L1056.7,343.3L1066.7,350.0L1073.3,360.0M1053.3,293.3L1066.7,291.7L1080.0,292.5M1046.7,268.3L1063.3,270.0M1046.7,273.3L1065.0,276.7M1026.7,303.3L1038.3,306.7L1051.7,305.0M1025.0,313.3L1038.3,316.7L1048.3,313.3L1063.3,310.0M1038.3,316.7L1040.0,328.3L1030.0,330.0L1023.3,333.3M1032.5,222.5L1037.5,212.5L1042.5,205.0L1050.0,202.0M478.3,207.5L430.8,250.0L438.3,255.0L446.7,258.3L449.2,270.0L445.0,280.0L441.7,288.3M448.8,307.5L565.0,307.0L570.0,310.0L585.0,312.5L597.5,315.0L605.0,321.2L610.0,327.5M611.7,327.2L618.7,330.0L628.1,331.9L641.2,330.0L656.2,327.2L663.7,324.4L669.4,317.8L674.1,315.9L676.4,317.8L675.0,322.5L675.9,327.2M530.0,493.8L536.2,486.2L547.5,485.0M550.0,484.5L547.5,475.0M1624.7,582.2L1623.8,615.0M1442.5,287.5L1455.0,284.2L1470.0,287.5L1485.0,295.0L1497.5,300.0L1507.5,305.0L1515.0,302.5L1522.5,307.5L1522.5,320.0L1520.0,332.5L1515.0,340.0L1516.2,346.2M1304.2,393.3L1308.3,395.8L1313.3,401.7L1320.0,406.7L1324.2,410.0M1304.2,393.3L1301.7,395.8L1298.3,400.0L1295.8,405.0L1293.3,410.0L1288.3,415.0L1284.2,420.0L1279.2,423.3"/>
<defs>
<linearGradient id="ft" x1="0" y1="0" x2="0" y2="1"><stop offset="0" stop-color="#f5f5f5" stop-opacity="0.5"/><stop offset="1" stop-color="#f5f5f5" stop-opacity="0"/></linearGradient>
<linearGradient id="fl" x1="0" y1="0" x2="1" y2="0"><stop offset="0" stop-color="#f5f5f5" stop-opacity="0.9"/><stop offset="1" stop-color="#f5f5f5" stop-opacity="0"/></linearGradient>
</defs>
<rect x="790" y="150" width="180" height="28" fill="url(#ft)"/>
<rect x="286" y="262" width="62" height="30" fill="url(#fl)"/>
</svg>
<div id="foot"></div>
<svg id="deco" width="1920" height="1080" viewBox="0 0 1920 1080">
<defs>
<linearGradient id="gy" gradientUnits="userSpaceOnUse" x1="1710" y1="1000" x2="1640" y2="1084"><stop offset="0" stop-color="#ffcc00"/><stop offset="0.25" stop-color="#ffcc00"/><stop offset="1" stop-color="#ffcc00" stop-opacity="0"/></linearGradient>
<linearGradient id="gg" gradientUnits="userSpaceOnUse" x1="1752" y1="970" x2="1800" y2="1022"><stop offset="0" stop-color="#8c8f97"/><stop offset="1" stop-color="#fbfbfc"/></linearGradient>
<linearGradient id="gb" gradientUnits="userSpaceOnUse" x1="1860" y1="935" x2="1806" y2="1004"><stop offset="0" stop-color="#0d45cc"/><stop offset="1" stop-color="#082f8c"/></linearGradient>
</defs>
<polygon points="1721.9,958.7 1766.7,958.7 1665.7,1080 1620.4,1080" fill="url(#gy)"/>
<polygon points="1766.7,958.7 1818.5,1019.3 1772.6,1019.3 1744.4,986.5" fill="url(#gg)"/>
<polygon points="1874.1,898 1921,898 1921,897 1818.5,1019.3 1795.9,991.7" fill="url(#gb)"/>
<rect x="247" y="1025" width="40.2" height="27.5" fill="#0b3ba2"/>
<g fill="#ffd617"><polygon points="267.00,1027.90 267.40,1029.14 268.71,1029.14 267.65,1029.91 268.06,1031.16 267.00,1030.39 265.94,1031.16 266.35,1029.91 265.29,1029.14 266.60,1029.14"/><polygon points="271.50,1029.11 271.90,1030.35 273.21,1030.35 272.15,1031.12 272.56,1032.36 271.50,1031.59 270.44,1032.36 270.85,1031.12 269.79,1030.35 271.10,1030.35"/><polygon points="274.79,1032.40 275.20,1033.64 276.51,1033.64 275.45,1034.41 275.85,1035.66 274.79,1034.89 273.74,1035.66 274.14,1034.41 273.08,1033.64 274.39,1033.64"/><polygon points="276.00,1036.90 276.40,1038.14 277.71,1038.14 276.65,1038.91 277.06,1040.16 276.00,1039.39 274.94,1040.16 275.35,1038.91 274.29,1038.14 275.60,1038.14"/><polygon points="274.79,1041.40 275.20,1042.64 276.51,1042.64 275.45,1043.41 275.85,1044.66 274.79,1043.89 273.74,1044.66 274.14,1043.41 273.08,1042.64 274.39,1042.64"/><polygon points="271.50,1044.69 271.90,1045.94 273.21,1045.94 272.15,1046.71 272.56,1047.95 271.50,1047.18 270.44,1047.95 270.85,1046.71 269.79,1045.94 271.10,1045.94"/><polygon points="267.00,1045.90 267.40,1047.14 268.71,1047.14 267.65,1047.91 268.06,1049.16 267.00,1048.39 265.94,1049.16 266.35,1047.91 265.29,1047.14 266.60,1047.14"/><polygon points="262.50,1044.69 262.90,1045.94 264.21,1045.94 263.15,1046.71 263.56,1047.95 262.50,1047.18 261.44,1047.95 261.85,1046.71 260.79,1045.94 262.10,1045.94"/><polygon points="259.21,1041.40 259.61,1042.64 260.92,1042.64 259.86,1043.41 260.26,1044.66 259.21,1043.89 258.15,1044.66 258.55,1043.41 257.49,1042.64 258.80,1042.64"/><polygon points="258.00,1036.90 258.40,1038.14 259.71,1038.14 258.65,1038.91 259.06,1040.16 258.00,1039.39 256.94,1040.16 257.35,1038.91 256.29,1038.14 257.60,1038.14"/><polygon points="259.21,1032.40 259.61,1033.64 260.92,1033.64 259.86,1034.41 260.26,1035.66 259.21,1034.89 258.15,1035.66 258.55,1034.41 257.49,1033.64 258.80,1033.64"/><polygon points="262.50,1029.11 262.90,1030.35 264.21,1030.35 263.15,1031.12 263.56,1032.36 262.50,1031.59 261.44,1032.36 261.85,1031.12 260.79,1030.35 262.10,1030.35"/></g>
<g fill="#d83886" fill-opacity="0.96" stroke="#fff" stroke-opacity="0.9" stroke-width="1">
<circle cx="514.25" cy="353.7" r="35.55"/><circle cx="543.75" cy="264.5" r="7.5"/><circle cx="948.75" cy="286.25" r="21.75"/><circle cx="992.4" cy="320.7" r="17.55"/><circle cx="991.6" cy="246.8" r="8.95"/><circle cx="1117.5" cy="401.75" r="4.1"/><circle cx="1179.5" cy="413" r="4.1"/><circle cx="1297" cy="241.25" r="6.5"/><circle cx="1526.75" cy="372" r="9.25"/><circle cx="1438" cy="388.25" r="9.5"/><circle cx="1575" cy="376.5" r="14.75"/><circle cx="1321.5" cy="449" r="5.25"/><circle cx="1485" cy="448.75" r="5.5"/><circle cx="1447.5" cy="559" r="4.5"/><circle cx="1567.75" cy="701.75" r="4.5"/><circle cx="734.25" cy="632.25" r="6.0"/><circle cx="1054.5" cy="735.5" r="4.1"/><circle cx="999.7" cy="317.2" r="4.3" fill="#d62a7c"/>
</g>
</svg>
<div id="euro">eurostat</div>
<span class="t" style="left:562.50px;top:246.05px;font:bold 23.5px 'Liberation Sans';line-height:23.5px;transform:scaleX(0.6504);">CANADA</span>
<span class="t" style="left:561.72px;top:271.05px;font:bold 23.5px 'Liberation Sans';line-height:23.5px;transform:scaleX(0.7832);">1.7%</span>
<span class="t" style="left:560.59px;top:330.55px;font:bold 23.5px 'Liberation Sans';line-height:23.5px;transform:scaleX(0.6610);">UNITED STATES</span>
<span class="t" style="left:561.25px;top:356.05px;font:bold 23.5px 'Liberation Sans';line-height:23.5px;transform:scaleX(0.7679);">43.7%</span>
<span class="t" style="left:816.80px;top:200.55px;font:bold 23.5px 'Liberation Sans';line-height:23.5px;transform:scaleX(0.6951);">UNITED KINGDOM</span>
<span class="t" style="left:909.24px;top:225.30px;font:bold 23.5px 'Liberation Sans';line-height:23.5px;transform:scaleX(0.7606);">15.9%</span>
<span class="t" style="left:1011.32px;top:223.05px;font:bold 23.5px 'Liberation Sans';line-height:23.5px;transform:scaleX(0.6756);">NORWAY</span>
<span class="t" style="left:1012.00px;top:248.05px;font:bold 23.5px 'Liberation Sans';line-height:23.5px;transform:scaleX(0.7546);">2.5%</span>
<span class="t" style="left:1019.34px;top:293.05px;font:bold 23.5px 'Liberation Sans';line-height:23.5px;transform:scaleX(0.6564);">LIECHTENSTEIN</span>
<span class="t" style="left:1020.00px;top:317.55px;font:bold 23.5px 'Liberation Sans';line-height:23.5px;transform:scaleX(0.7546);">0.6%</span>
<span class="t" style="left:894.50px;top:346.80px;font:bold 23.5px 'Liberation Sans';line-height:23.5px;transform:scaleX(0.6719);">SWITZERLAND</span>
<span class="t" style="left:957.99px;top:371.80px;font:bold 23.5px 'Liberation Sans';line-height:23.5px;transform:scaleX(0.7606);">10.3%</span>
<span class="t" style="left:1028.06px;top:413.05px;font:bold 23.5px 'Liberation Sans';line-height:23.5px;transform:scaleX(0.6879);">ISRAEL 0.5%</span>
<span class="t" style="left:1148.57px;top:425.55px;font:bold 23.5px 'Liberation Sans';line-height:23.5px;transform:scaleX(0.6797);">KUWAIT</span>
<span class="t" style="left:1160.00px;top:450.80px;font:bold 23.5px 'Liberation Sans';line-height:23.5px;transform:scaleX(0.7640);">0.5%</span>
<span class="t" style="left:1311.85px;top:219.80px;font:bold 23.5px 'Liberation Sans';line-height:23.5px;transform:scaleX(0.6548);">RUSSIA</span>
<span class="t" style="left:1311.73px;top:244.80px;font:bold 23.5px 'Liberation Sans';line-height:23.5px;transform:scaleX(0.7690);">1.3%</span>
<span class="t" style="left:1470.00px;top:288.05px;font:bold 23.5px 'Liberation Sans';line-height:23.5px;transform:scaleX(0.6459);">SOUTH</span>
<span class="t" style="left:1469.37px;top:313.05px;font:bold 23.5px 'Liberation Sans';line-height:23.5px;transform:scaleX(0.6258);">KOREA</span>
<span class="t" style="left:1475.00px;top:337.55px;font:bold 23.5px 'Liberation Sans';line-height:23.5px;transform:scaleX(0.7826);">2.8%</span>
<span class="t" style="left:1375.00px;top:353.80px;font:bold 23.5px 'Liberation Sans';line-height:23.5px;transform:scaleX(0.6649);">CHINA</span>
<span class="t" style="left:1375.00px;top:378.80px;font:bold 23.5px 'Liberation Sans';line-height:23.5px;transform:scaleX(0.7640);">2.7%</span>
<span class="t" style="left:1598.00px;top:344.30px;font:bold 23.5px 'Liberation Sans';line-height:23.5px;transform:scaleX(0.6596);">JAPAN</span>
<span class="t" style="left:1597.20px;top:369.80px;font:bold 23.5px 'Liberation Sans';line-height:23.5px;transform:scaleX(0.7974);">7.6%</span>
<span class="t" style="left:1300.52px;top:463.05px;font:bold 23.5px 'Liberation Sans';line-height:23.5px;transform:scaleX(0.7262);">INDIA</span>
<span class="t" style="left:1303.00px;top:488.05px;font:bold 23.5px 'Liberation Sans';line-height:23.5px;transform:scaleX(0.7826);">0.8%</span>
<span class="t" style="left:1498.09px;top:436.80px;font:bold 23.5px 'Liberation Sans';line-height:23.5px;transform:scaleX(0.6575);">HONG KONG</span>
<span class="t" style="left:1498.75px;top:461.80px;font:bold 23.5px 'Liberation Sans';line-height:23.5px;transform:scaleX(0.7453);">0.9%</span>
<span class="t" style="left:1467.00px;top:538.05px;font:bold 23.5px 'Liberation Sans';line-height:23.5px;transform:scaleX(0.6537);">SINGAPORE</span>
<span class="t" style="left:1467.00px;top:562.30px;font:bold 23.5px 'Liberation Sans';line-height:23.5px;transform:scaleX(0.7640);">0.6%</span>
<span class="t" style="left:1466.25px;top:681.30px;font:bold 23.5px 'Liberation Sans';line-height:23.5px;transform:scaleX(0.6499);">AUSTRALIA</span>
<span class="t" style="left:1513.00px;top:706.05px;font:bold 23.5px 'Liberation Sans';line-height:23.5px;transform:scaleX(0.7733);">0.5%</span>
<span class="t" style="left:751.84px;top:612.55px;font:bold 23.5px 'Liberation Sans';line-height:23.5px;transform:scaleX(0.6634);">BRAZIL</span>
<span class="t" style="left:751.73px;top:638.05px;font:bold 23.5px 'Liberation Sans';line-height:23.5px;transform:scaleX(0.7690);">1.1%</span>
<span class="t" style="left:914.50px;top:721.30px;font:bold 23.5px 'Liberation Sans';line-height:23.5px;transform:scaleX(0.6504);">SOUTH AFRICA</span>
<span class="t" style="left:988.75px;top:746.05px;font:bold 23.5px 'Liberation Sans';line-height:23.5px;transform:scaleX(0.7686);">0.5%</span>
<span class="t" style="left:51.76px;top:36.70px;font:bold 46.5px 'Liberation Sans';line-height:46.5px;transform:scaleX(0.7408);">Share of foreign affiliates in the EU controlled by the rest of the world, 2022</span>
<span class="t" style="left:52.41px;top:102.70px;font:italic 27px 'Liberation Sans';line-height:27px;transform:scaleX(0.9887);">(% of net turnover)</span>
<span class="t" style="left:53.32px;top:945.90px;font:italic 19.5px 'Liberation Sans';line-height:19.5px;transform:scaleX(0.6768);-webkit-text-stroke:0.3px #262b38;">The boundaries and names shown and the designations used on this map do not imply official endorsement or acceptance by the EU.</span>
<span class="t" style="left:53.39px;top:969.80px;font:italic 19.5px 'Liberation Sans';line-height:19.5px;transform:scaleX(0.6866);-webkit-text-stroke:0.3px #262b38;">Administrative boundaries: © EuroGeographics © UN–FAO © Turkstat</span>
</body></html>
